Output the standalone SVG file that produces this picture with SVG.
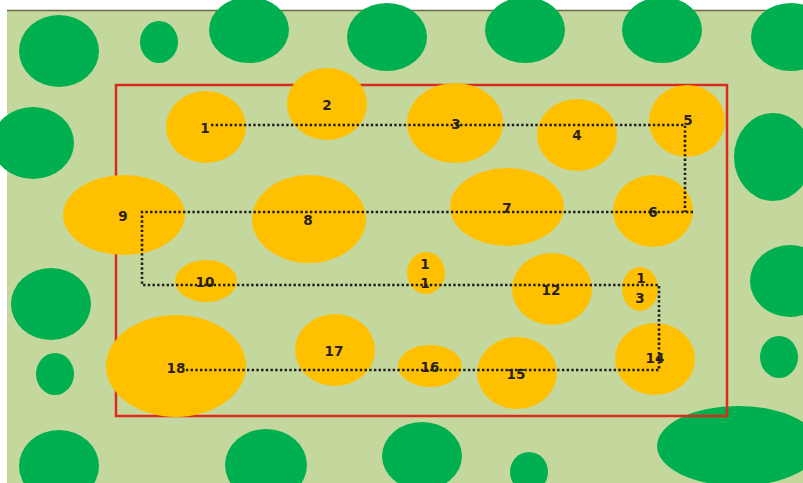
<svg xmlns="http://www.w3.org/2000/svg" width="803" height="483" viewBox="0 0 803 483">
  <style>
    .tree { fill: #00b050; }
    .plant { fill: #ffc000; }
    .lbl { font-family: "DejaVu Sans", "Liberation Sans", sans-serif; font-weight: bold; font-size: 13.5px; fill: #2a2218; text-anchor: middle; dominant-baseline: central; }
    .path { fill: none; stroke: #1e1e1e; stroke-width: 2.6; stroke-dasharray: 2.4 2.3; }
  </style>
  <rect x="0" y="0" width="803" height="483" fill="#ffffff"/>
  <rect x="7" y="10" width="796" height="473" fill="#c4d89e"/>
  <line x1="7" y1="10.5" x2="803" y2="10.5" stroke="#6b6a45" stroke-width="1.5"/>

  <g id="trees">
    <ellipse class="tree" cx="59" cy="51" rx="40" ry="36"/>
    <ellipse class="tree" cx="159" cy="42" rx="19" ry="21"/>
    <ellipse class="tree" cx="249" cy="30" rx="40" ry="33"/>
    <ellipse class="tree" cx="387" cy="37" rx="40" ry="34"/>
    <ellipse class="tree" cx="525" cy="30" rx="40" ry="33"/>
    <ellipse class="tree" cx="662" cy="30" rx="40" ry="33"/>
    <ellipse class="tree" cx="791" cy="37" rx="40" ry="34"/>
    <ellipse class="tree" cx="33" cy="143" rx="41" ry="36"/>
    <ellipse class="tree" cx="773" cy="157" rx="39" ry="44"/>
    <ellipse class="tree" cx="51" cy="304" rx="40" ry="36"/>
    <ellipse class="tree" cx="790" cy="281" rx="40" ry="36"/>
    <ellipse class="tree" cx="55" cy="374" rx="19" ry="21"/>
    <ellipse class="tree" cx="779" cy="357" rx="19" ry="21"/>
    <ellipse class="tree" cx="59" cy="466" rx="40" ry="36"/>
    <ellipse class="tree" cx="266" cy="465" rx="41" ry="36"/>
    <ellipse class="tree" cx="422" cy="456" rx="40" ry="34"/>
    <ellipse class="tree" cx="529" cy="472" rx="19" ry="20"/>
    <ellipse class="tree" cx="738" cy="446" rx="81" ry="40"/>
  </g>

  <rect id="boundary" x="116" y="85" width="611" height="331" fill="none" stroke="#dc2a1e" stroke-width="2.5"/>

  <g id="n1"><ellipse class="plant" cx="206" cy="127" rx="40" ry="36"/><text class="lbl" x="205" y="128">1</text></g>
  <g id="n2"><ellipse class="plant" cx="327" cy="104" rx="40" ry="36"/><text class="lbl" x="327" y="105">2</text></g>
  <g id="n3"><ellipse class="plant" cx="455" cy="123" rx="48" ry="40"/><text class="lbl" x="456" y="124">3</text></g>
  <g id="n4"><ellipse class="plant" cx="577" cy="135" rx="40" ry="36"/><text class="lbl" x="577" y="135">4</text></g>
  <g id="n5"><ellipse class="plant" cx="687" cy="121" rx="38" ry="36"/><text class="lbl" x="688" y="120">5</text></g>
  <g id="n6"><ellipse class="plant" cx="653" cy="211" rx="40" ry="36"/><text class="lbl" x="653" y="212">6</text></g>
  <g id="n7"><ellipse class="plant" cx="507" cy="207" rx="57" ry="39"/><text class="lbl" x="507" y="208">7</text></g>
  <g id="n8"><ellipse class="plant" cx="309" cy="219" rx="57" ry="44"/><text class="lbl" x="308" y="220">8</text></g>
  <g id="n9"><ellipse class="plant" cx="124" cy="215" rx="61" ry="40"/><text class="lbl" x="123" y="216">9</text></g>
  <g id="n10"><ellipse class="plant" cx="206" cy="281" rx="31" ry="21"/><text class="lbl" x="205" y="282">10</text></g>
  <g id="n11"><ellipse class="plant" cx="426" cy="273" rx="19" ry="21"/><text class="lbl" x="425" y="264">1</text><text class="lbl" x="425" y="283">1</text></g>
  <g id="n12"><ellipse class="plant" cx="552" cy="289" rx="40" ry="36"/><text class="lbl" x="551" y="290">12</text></g>
  <g id="n13"><ellipse class="plant" cx="640" cy="289" rx="18" ry="22"/><text class="lbl" x="641" y="278">1</text><text class="lbl" x="640" y="298">3</text></g>
  <g id="n14"><ellipse class="plant" cx="655" cy="359" rx="40" ry="36"/><text class="lbl" x="655" y="358">14</text></g>
  <g id="n15"><ellipse class="plant" cx="517" cy="373" rx="40" ry="36"/><text class="lbl" x="516" y="374">15</text></g>
  <g id="n16"><ellipse class="plant" cx="430" cy="366" rx="32" ry="21"/><text class="lbl" x="430" y="367">16</text></g>
  <g id="n17"><ellipse class="plant" cx="335" cy="350" rx="40" ry="36"/><text class="lbl" x="334" y="351">17</text></g>
  <g id="n18"><ellipse class="plant" cx="176" cy="366" rx="70" ry="51"/><text class="lbl" x="176" y="368">18</text></g>

  <g id="connectors">
    <path class="path" d="M211 125 H685 V212 M693 212 H142 V285 H659 V370 H186"/>
  </g>
</svg>
